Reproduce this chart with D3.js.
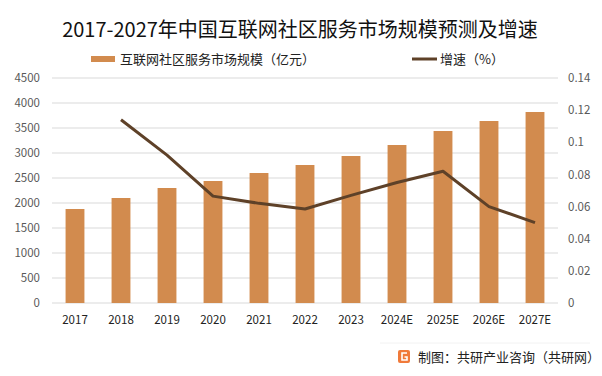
<!DOCTYPE html>
<html><head><meta charset="utf-8">
<script src="https://cdn.jsdelivr.net/npm/d3@7"></script>
<style>body{margin:0;background:#fff}svg{display:block}</style>
</head><body><svg id="c" width="602" height="376"></svg>
<script>
const categories = ["2017","2018","2019","2020","2021","2022","2023","2024E","2025E","2026E","2027E"];
const marketSize = [1880,2100,2300,2440,2600,2760,2940,3160,3440,3640,3820];
const growth = [null,0.114,0.092,0.0665,0.062,0.0585,0.067,0.075,0.082,0.060,0.050];
const leftTicks = [0,500,1000,1500,2000,2500,3000,3500,4000,4500];
const rightTicks = [0,0.02,0.04,0.06,0.08,0.1,0.12,0.14];
const rightTickLabels = ["0","0.02","0.04","0.06","0.08","0.1","0.12","0.14"];
const title = "2017-2027年中国互联网社区服务市场规模预测及增速";
const legendBar = "互联网社区服务市场规模（亿元）";
const legendLine = "增速（%）";
const source = "制图：共研产业咨询（共研网）";

const svg = d3.select("#c");
const font = "'Noto Sans CJK SC','Noto Sans',sans-serif";
const L = 52, R = 558, T = 78, B = 303;
const barColor = "#D28B4E", lineColor = "#5E4128";

const x = d3.scaleBand().domain(categories).range([L, R]).paddingInner(0.59).paddingOuter(0.295);
const y = d3.scaleLinear().domain([0,4500]).range([B, T]);
const y2 = d3.scaleLinear().domain([0,0.14]).range([B, T]);

// title
svg.append("text").attr("x", 300).attr("y", 37).attr("text-anchor","middle")
  .attr("font-family", font).attr("font-size", 20).attr("fill","#111").text(title);

// grid
svg.append("g").selectAll("line").data(leftTicks).join("line")
  .attr("x1", L).attr("x2", R).attr("y1", d=>y(d)).attr("y2", d=>y(d))
  .attr("stroke","#d9d9d9").attr("stroke-width",1);

// left axis
const ax = svg.append("g").attr("transform",`translate(${L},0)`)
  .call(d3.axisLeft(y).tickValues(leftTicks).tickSize(0).tickPadding(12).tickFormat(d3.format("d")));
ax.select(".domain").remove();
ax.selectAll("text").attr("font-family", font).attr("font-size", 11.5).attr("fill","#595959");

// right axis
const ax2 = svg.append("g").attr("transform",`translate(${R},0)`)
  .call(d3.axisRight(y2).tickValues(rightTicks).tickSize(0).tickPadding(10).tickFormat((d,i)=>rightTickLabels[i]));
ax2.select(".domain").remove();
ax2.selectAll("text").attr("font-family", font).attr("font-size", 11.5).attr("fill","#595959");

// x axis
const axb = svg.append("g").attr("transform",`translate(0,${B})`)
  .call(d3.axisBottom(x).tickSize(0).tickPadding(13));
axb.select(".domain").remove();
axb.selectAll("text").attr("font-family", font).attr("font-size", 11.5).attr("fill","#222");

// bars
svg.append("g").selectAll("rect").data(categories).join("rect")
  .attr("x", d=>x(d)).attr("width", x.bandwidth())
  .attr("y", (d,i)=>y(marketSize[i])).attr("height", (d,i)=>B - y(marketSize[i]))
  .attr("fill", barColor);

// line
const pts = categories.map((c,i)=>({c, v: growth[i]})).filter(p=>p.v!=null);
svg.append("path").datum(pts)
  .attr("d", d3.line().x(p=>x(p.c)+x.bandwidth()/2).y(p=>y2(p.v)))
  .attr("fill","none").attr("stroke", lineColor).attr("stroke-width",3).attr("stroke-linejoin","round");

// legend
svg.append("rect").attr("x",91).attr("y",56).attr("width",24).attr("height",6).attr("fill",barColor);
svg.append("text").attr("x",120).attr("y",64).attr("font-family",font).attr("font-size",13).attr("fill","#222").text(legendBar);
svg.append("line").attr("x1",412).attr("x2",437).attr("y1",59).attr("y2",59).attr("stroke",lineColor).attr("stroke-width",3);
svg.append("text").attr("x",440).attr("y",64).attr("font-family",font).attr("font-size",13).attr("fill","#222").text(legendLine);

// footer
svg.append("line").attr("x1",380).attr("x2",590).attr("y1",343).attr("y2",343).attr("stroke","#f2f2f2");
const lg = svg.append("g").attr("transform","translate(398,350)");
lg.append("rect").attr("width",12).attr("height",13).attr("rx",2).attr("fill","#F07A3A");
lg.append("path").attr("d","M9,3 H4 V10 H9 V7 H6.5").attr("fill","none").attr("stroke","#fff").attr("stroke-width",1.6);
svg.append("text").attr("x",418).attr("y",362).attr("font-family",font).attr("font-size",13).attr("fill","#222").text(source);
</script></body></html>
